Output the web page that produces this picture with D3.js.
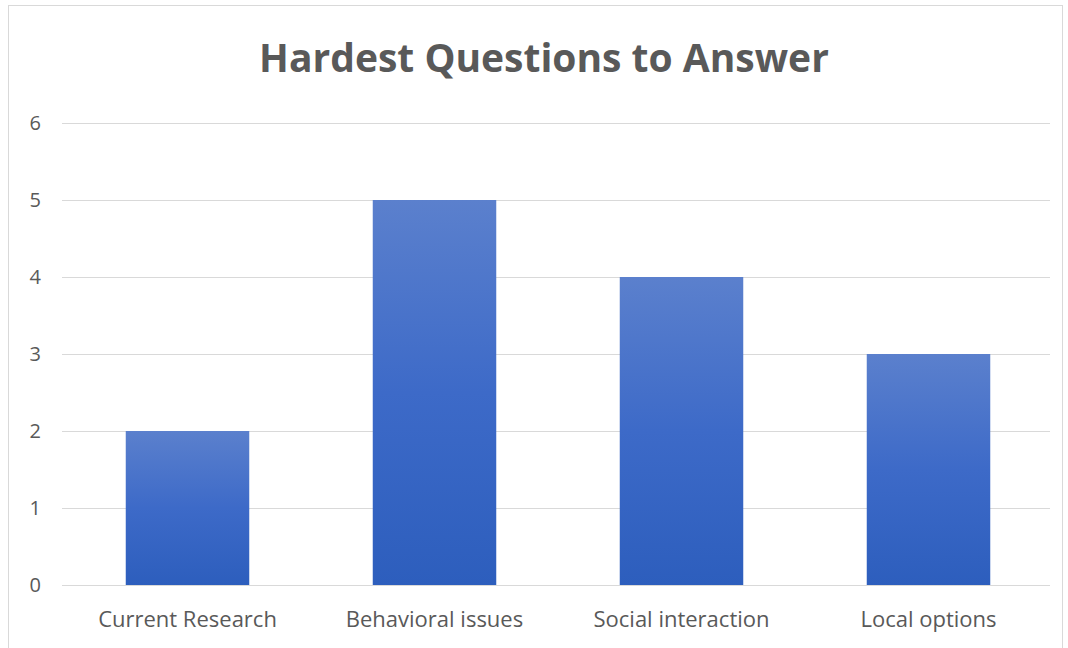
<!DOCTYPE html>
<html><head><meta charset="utf-8">
<script src="https://cdn.jsdelivr.net/npm/d3@7"></script>
<style>html,body{margin:0;padding:0;background:#fff;}svg{display:block;}</style>
</head><body>
<svg id="chart" width="1068" height="648"></svg>
<script>
const categories = ["Current Research", "Behavioral issues", "Social interaction", "Local options"];
const values = [2, 5, 4, 3];
const yTicks = [0, 1, 2, 3, 4, 5, 6];
const title = "Hardest Questions to Answer";

const svg = d3.select("#chart");
const W = 1068, H = 648;
const m = {left: 62, right: 18, top: 123, bottom: 63};
const font = "'Open Sans', 'Noto Sans', sans-serif";

svg.append("rect").attr("x", 8.5).attr("y", 5.5).attr("width", W - 14).attr("height", H)
  .attr("fill", "#fff").attr("stroke", "#d9d9d9").attr("stroke-width", 1);

const defs = svg.append("defs");
const grad = defs.append("linearGradient").attr("id", "barGrad").attr("x1", 0).attr("y1", 0).attr("x2", 0).attr("y2", 1);
grad.append("stop").attr("offset", "0%").attr("stop-color", "#5b80cd");
grad.append("stop").attr("offset", "50%").attr("stop-color", "#3d6ac8");
grad.append("stop").attr("offset", "100%").attr("stop-color", "#2d5ebd");

const x = d3.scaleBand().domain(categories).range([m.left + 2, W - m.right + 2]).paddingInner(0.5).paddingOuter(0.25);
const y = d3.scaleLinear().domain([0, 6]).range([H - m.bottom, m.top]);

svg.append("g").selectAll("line").data(yTicks).join("line")
  .attr("x1", m.left).attr("x2", W - m.right)
  .attr("y1", d => Math.round(y(d)) + 0.5).attr("y2", d => Math.round(y(d)) + 0.5)
  .attr("stroke", "#d9d9d9").attr("stroke-width", 1);

const yAxis = svg.append("g").attr("transform", `translate(${m.left},0)`)
  .call(d3.axisLeft(y).tickValues(yTicks).tickFormat(d3.format("d")).tickSize(0).tickPadding(21));
yAxis.select(".domain").remove();
yAxis.selectAll("text").attr("fill", "#595959").style("font-family", font).style("font-size", "20px");

svg.append("g").selectAll("rect").data(values).join("rect")
  .attr("x", (d, i) => x(categories[i]))
  .attr("width", x.bandwidth())
  .attr("y", d => y(d))
  .attr("height", d => y(0) - y(d))
  .attr("fill", "url(#barGrad)");

const xAxis = svg.append("g").attr("transform", `translate(0,${y(0)})`)
  .call(d3.axisBottom(x).tickSize(0).tickPadding(26));
xAxis.select(".domain").remove();
xAxis.selectAll("text").attr("fill", "#595959").style("font-family", font).style("font-size", "22px");

svg.append("text").attr("x", 544).attr("y", 72)
  .attr("text-anchor", "middle").attr("fill", "#595959")
  .style("font-family", font).style("font-weight", "bold").style("font-size", "39px")
  .text(title);
</script>
</body></html>
